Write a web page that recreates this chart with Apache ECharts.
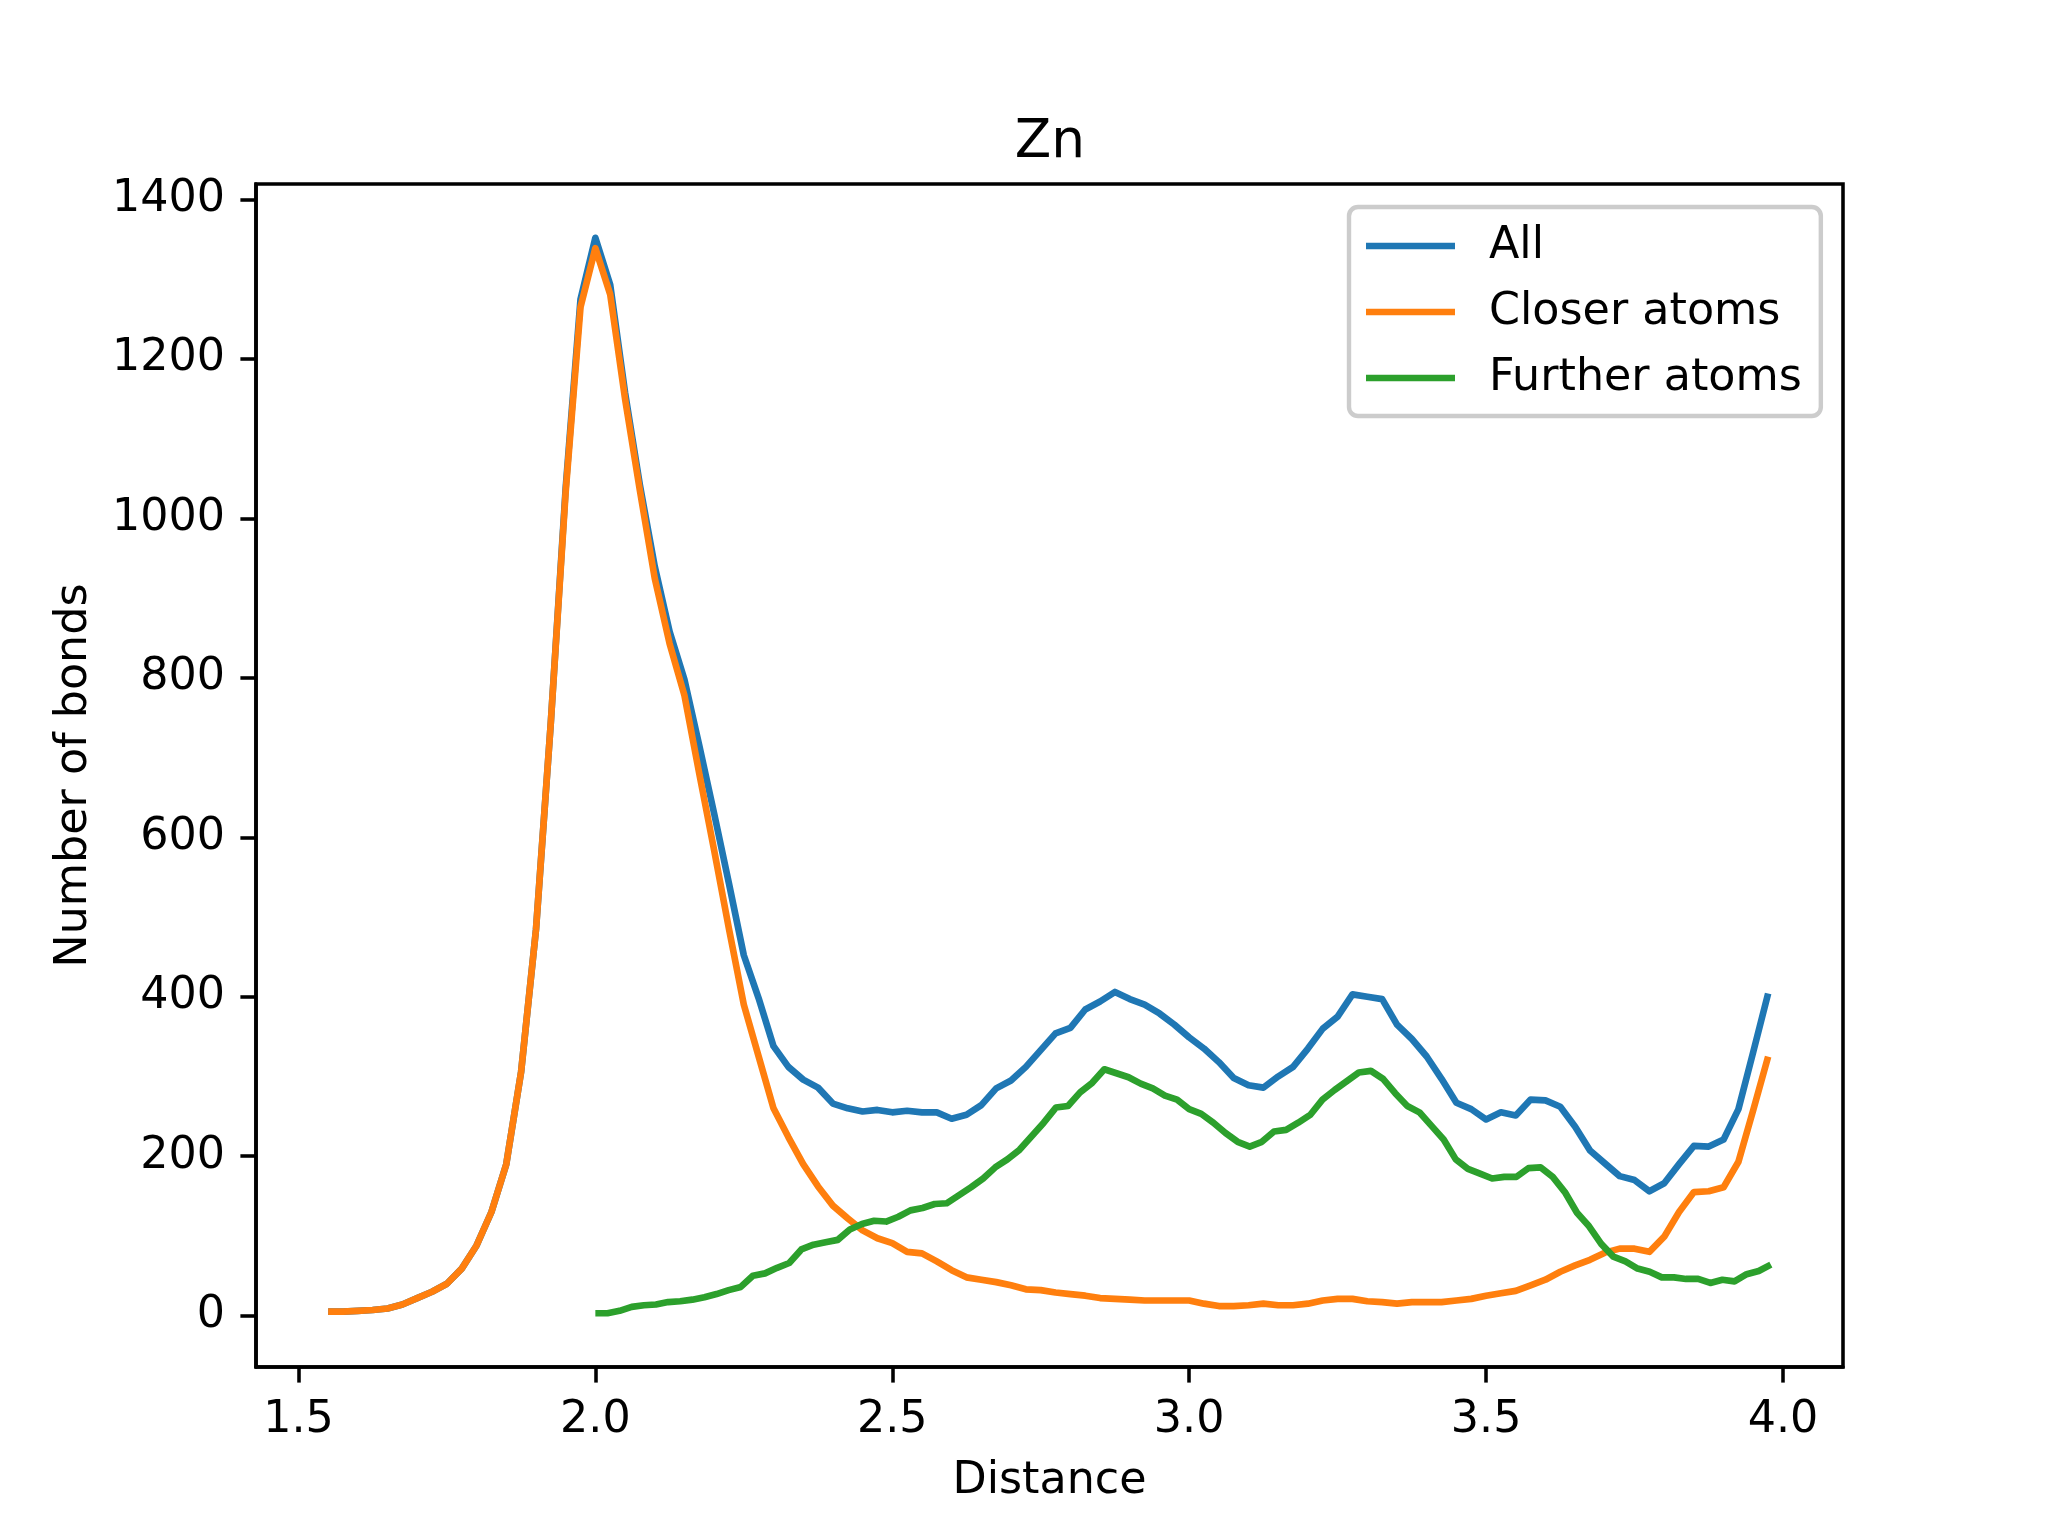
<!DOCTYPE html>
<html>
<head>
<meta charset="utf-8">
<style>
  html, body { margin: 0; padding: 0; background: #ffffff; }
  #chart { width: 2048px; height: 1536px; }
</style>
<script src="https://cdn.jsdelivr.net/npm/echarts@6/dist/echarts.min.js"></script>
</head>
<body>
<div id="chart"></div>
<script>
// Histogram bins (left edges): All / Closer atoms share bins, Further atoms has its own
const sharedBinStart = 1.55;
const sharedBinWidth = 0.025;
const furtherBinStart = 2.0;
const furtherBinWidth = 2.0 / 98;

const allCounts = [5,5,6,7,9,14,22,30,40,59,88,130,190,306,484,744,1038,
  1275,1352,1293,1158,1042, 940,858,798,715,630, 542,452,398,338,312,
  296,286,266,260,256, 258,255,257,255,255, 247,252,264,285,295,
  312,333,354,361,384, 394,406,397,390,379, 365,349,335,318,298,
  289,286,300,312,335, 360,375,403,400,397, 365,347,325,297,267,
  259,246,255,251,271, 270,262,237,207,191, 175,170,156,166,190,
  213,212,221,259,331, 404];

const closerCounts = [5,5,6,7,9,14,22,30,40,59,88,130,190,306,484,744,1033,
  1265,1339,1281,1150,1035, 925,843,778,680,584, 485,390,325,260,224,
  190,162,138,122,107, 97,91,80,78,68, 57,48,45,42,38,
  33,32,29,27,25, 22,21,20,19,19, 19,19,15,12,12,
  13,15,13,13,15, 19,21,21,18,17, 15,17,17,17,19,
  21,25,28,31,38, 45,55,63,70,79, 84,84,80,99,130,
  155,156,161,193,258, 325];

const furtherCounts = [3,3,6,11,13,14,17,18,20,23,
  27,32,36,50,53,60,66,83,89,92,
  95,108,115,119,118,124,132,135,140,141,
  151,161,172,186,196,208,225,242,261,263,
  280,292,309,304,299,291,285,276,271,259,
  253,242,229,218,212,218,231,233,242,252,
  271,283,294,305,307,297,279,263,255,238,
  221,196,184,178,172,174,174,185,186,174,
  155,129,112,90,74,68,59,55,48,48,
  46,46,41,45,43,52,56,64];

const seriesNames = ['All', 'Closer atoms', 'Further atoms'];
const seriesColors = ['#1f77b4', '#ff7f0e', '#2ca02c'];
const xTicks = [1.5, 2.0, 2.5, 3.0, 3.5, 4.0];
const yTicks = [0, 200, 400, 600, 800, 1000, 1200, 1400];

const sharedX = allCounts.map((_, i) => sharedBinStart + i * sharedBinWidth);
const furtherX = furtherCounts.map((_, j) => furtherBinStart + j * furtherBinWidth);

const pairs = (xs, ys) => ys.map((y, k) => [xs[k], y]);
const allData = pairs(sharedX, allCounts);
const closerData = pairs(sharedX, closerCounts);
const furtherData = pairs(furtherX, furtherCounts);

// matplotlib-like 5% autoscale margins
const xsAll = sharedX.concat(furtherX);
const ysAll = allCounts.concat(closerCounts, furtherCounts);
const xMinD = Math.min(...xsAll), xMaxD = Math.max(...xsAll);
const yMinD = Math.min(...ysAll), yMaxD = Math.max(...ysAll);
const xPad = (xMaxD - xMinD) * 0.05, yPad = (yMaxD - yMinD) * 0.05;

const FONT = 'DejaVu Sans';
const TICK_FS = 44.4;
const LW_AX = 3.56;

const chart = echarts.init(document.getElementById('chart'), null, { renderer: 'canvas', width: 2048, height: 1536 });

chart.setOption({
  animation: false,
  backgroundColor: '#ffffff',
  title: {
    text: 'Zn',
    left: 1045,
    top: 112,
    textAlign: 'center',
    textStyle: { fontFamily: FONT, fontSize: 53.3, fontWeight: 'normal', color: '#000' }
  },
  grid: {
    left: 256, right: 205, top: 184, bottom: 169,
    show: true, borderColor: '#000', borderWidth: LW_AX, backgroundColor: 'transparent'
  },
  legend: {
    orient: 'vertical',
    left: 1349, top: 207,
    padding: [17, 19, 16, 17],
    itemGap: 22,
    itemWidth: 89,
    itemHeight: 6.7,
    icon: 'rect',
    backgroundColor: 'rgba(255,255,255,0.8)',
    borderColor: '#cccccc',
    borderWidth: 4.4,
    borderRadius: 9,
    textStyle: { fontFamily: FONT, fontSize: TICK_FS, color: '#000', lineHeight: 44, padding: [0, 0, 0, 29] },
    data: seriesNames
  },
  xAxis: {
    type: 'value',
    min: xMinD - xPad,
    max: xMaxD + xPad,
    name: 'Distance',
    nameLocation: 'middle',
    nameGap: 92,
    nameTextStyle: { fontFamily: FONT, fontSize: TICK_FS, color: '#000' },
    axisLine: { show: true, onZero: false, lineStyle: { color: '#000', width: LW_AX } },
    axisTick: { show: true, inside: false, length: 15.6, customValues: xTicks, lineStyle: { color: '#000', width: LW_AX } },
    axisLabel: { show: true, margin: 31, customValues: xTicks, fontFamily: FONT, fontSize: TICK_FS, color: '#000',
      formatter: v => Number(v).toFixed(1) },
    splitLine: { show: false }
  },
  yAxis: {
    type: 'value',
    min: yMinD - yPad,
    max: yMaxD + yPad,
    name: 'Number of bonds',
    nameLocation: 'middle',
    nameGap: 160,
    nameRotate: 90,
    nameTextStyle: { fontFamily: FONT, fontSize: TICK_FS, color: '#000' },
    axisLine: { show: true, onZero: false, lineStyle: { color: '#000', width: LW_AX } },
    axisTick: { show: true, inside: false, length: 15.6, customValues: yTicks, lineStyle: { color: '#000', width: LW_AX } },
    axisLabel: { show: true, margin: 31, customValues: yTicks, fontFamily: FONT, fontSize: TICK_FS, color: '#000',
      padding: [7, 0, 0, 0],
      formatter: v => String(Math.round(v)) },
    splitLine: { show: false }
  },
  series: [
    { name: seriesNames[0], type: 'line', data: allData, symbol: 'none', color: seriesColors[0],
      lineStyle: { width: 6.67, color: seriesColors[0], join: 'round' }, z: 2 },
    { name: seriesNames[1], type: 'line', data: closerData, symbol: 'none', color: seriesColors[1],
      lineStyle: { width: 6.67, color: seriesColors[1], join: 'round' }, z: 3 },
    { name: seriesNames[2], type: 'line', data: furtherData, symbol: 'none', color: seriesColors[2],
      lineStyle: { width: 6.67, color: seriesColors[2], join: 'round' }, z: 4 }
  ]
});
</script>
</body>
</html>
